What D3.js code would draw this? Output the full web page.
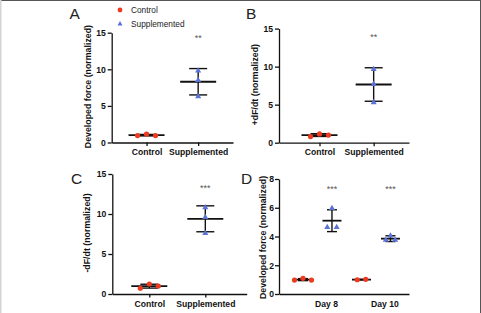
<!DOCTYPE html>
<html><head><meta charset="utf-8">
<script src="https://cdn.jsdelivr.net/npm/d3@7"></script>
<style>
body{margin:0;background:#fff}
svg{display:block;font-family:"Liberation Sans",Arial,Helvetica,sans-serif}
</style>
</head><body>
<svg id="chart" width="481" height="313"></svg>
<script>
// ---------------- data ----------------
const categories = ["Control", "Supplemented"];
const days = ["Day 8", "Day 10"];
const ticks15 = [0, 5, 10, 15];
const ticks8 = [0, 2, 4, 6, 8];

// Panel A: developed force
const aControl = [0.95, 1.15, 0.95];
const aSupp = [9.8, 8.5, 6.3];
const aMean = [1.0, 8.3];
const aSD = [0.1, 1.8];

// Panel B: +dF/dt
const bControl = [0.8, 1.15, 1.0];
const bSupp = [9.65, 7.7, 5.3];
const bMean = [1.0, 7.65];
const bSD = [0.18, 2.2];

// Panel C: -dF/dt
const cControl = [0.72, 1.25, 1.0];
const cSupp = [10.8, 9.6, 7.6];
const cMean = [0.98, 9.4];
const cSD = [0.24, 1.62];

// Panel D: developed force by day
const dControl = [[0.97, 1.09, 0.97], [0.99, 1.02]];
const dSupp = [[5.96, 4.64, 4.64], [4.05, 3.75, 3.75]];
const dControlMean = [1.0, 1.0];
const dControlSD = [0.07, 0.02];
const dSuppMean = [5.1, 3.85];
const dSuppSD = [0.76, 0.2];

const stars = ["**", "**", "***", "***"];

// ---------------- styles ----------------
const RED = "#ee3a1f";
const BLUE = "#5b73d6";
const INK = "#111";

const svg = d3.select("#chart");

// frame
svg.append("line").attr("x1", 0).attr("x2", 481).attr("y1", 0.5).attr("y2", 0.5).attr("stroke", "#555").attr("stroke-width", 1);
svg.append("line").attr("x1", 480.5).attr("x2", 480.5).attr("y1", 0).attr("y2", 313).attr("stroke", "#555").attr("stroke-width", 1);
svg.append("line").attr("x1", 0.75).attr("x2", 0.75).attr("y1", 0).attr("y2", 313).attr("stroke", "#d4d4d4").attr("stroke-width", 1.5);

// beeswarm-like horizontal offsets for overlapping points
function swarm(vals, y, spacing, thresh) {
  const idx = vals.map((v, i) => i).sort((a, b) => vals[a] - vals[b]);
  const off = new Array(vals.length).fill(0);
  let cluster = [idx[0]];
  const flush = () => {
    const c = cluster.slice().sort((a, b) => a - b);
    c.forEach((k, j) => { off[k] = (j - (c.length - 1) / 2) * spacing; });
  };
  for (let i = 1; i < idx.length; i++) {
    if (Math.abs(y(vals[idx[i]]) - y(vals[idx[i - 1]])) < thresh) cluster.push(idx[i]);
    else { flush(); cluster = [idx[i]]; }
  }
  flush();
  return off;
}

function yAxis(g, y, ticks, x0, pad) {
  const ax = g.append("g").attr("transform", `translate(${x0},0)`)
    .call(d3.axisLeft(y).tickValues(ticks).tickSize(4).tickSizeOuter(0).tickPadding(pad));
  ax.select(".domain").attr("stroke", INK).attr("stroke-width", 1.3);
  ax.selectAll(".tick line").attr("stroke", INK).attr("stroke-width", 1.3);
  ax.selectAll(".tick text").attr("fill", INK).attr("font-size", 8.6).attr("font-weight", "bold")
    .attr("font-family", '"Liberation Sans",Arial,sans-serif');
}

function errorBar(g, cx, y, mean, sd, meanW, capW) {
  const lo = y(mean - sd), hi = y(mean + sd);
  g.append("line").attr("x1", cx).attr("x2", cx).attr("y1", lo).attr("y2", hi).attr("stroke", INK).attr("stroke-width", 1.4);
  [lo, hi].forEach(v => g.append("line").attr("x1", cx - capW / 2).attr("x2", cx + capW / 2).attr("y1", v).attr("y2", v).attr("stroke", INK).attr("stroke-width", 1.4));
  g.append("line").attr("x1", cx - meanW / 2).attr("x2", cx + meanW / 2).attr("y1", y(mean)).attr("y2", y(mean)).attr("stroke", INK).attr("stroke-width", 1.8);
}

function points(g, cx, vals, y, kind, spacing, thresh, size) {
  const off = swarm(vals, y, spacing, thresh);
  vals.forEach((v, i) => {
    if (kind === "circle") {
      g.append("circle").attr("cx", cx + off[i]).attr("cy", y(v)).attr("r", size).attr("fill", RED);
    } else {
      g.append("path").attr("d", d3.symbol().type(d3.symbolTriangle).size(size)())
        .attr("transform", `translate(${cx + off[i]},${y(v)})`).attr("fill", BLUE);
    }
  });
}

function yTitle(text, x, y) {
  svg.append("text").attr("transform", `translate(${x},${y}) rotate(-90)`)
    .attr("text-anchor", "middle").attr("dominant-baseline", "central")
    .attr("font-size", 8.8).attr("font-weight", "bold").attr("fill", INK).text(text);
}

function letter(t, x, y) {
  svg.append("text").attr("x", x).attr("y", y).attr("font-size", 15.5).attr("fill", "#222").text(t);
}

function starText(t, x, y) {
  svg.append("text").attr("x", x).attr("y", y + 5).attr("text-anchor", "middle")
    .attr("font-size", 9).attr("fill", "#555").text(t);
}

// ----- panels A, B, C (two categories) -----
function catPanel(cfg) {
  const g = svg.append("g");
  const y = d3.scaleLinear().domain([0, 15]).range([cfg.yb, cfg.yt]);
  const x = d3.scalePoint().domain(categories).range([cfg.x0, cfg.x1]).padding(cfg.pad).align(cfg.align);
  const xa = g.append("g").attr("transform", `translate(0,${cfg.yb})`)
    .call(d3.axisBottom(x).tickSize(3.5).tickSizeOuter(0).tickPadding(3));
  xa.select(".domain").attr("stroke", INK).attr("stroke-width", 1.3);
  xa.selectAll(".tick line").attr("stroke", INK).attr("stroke-width", 1.3);
  xa.selectAll(".tick text").attr("fill", INK).attr("font-size", 8.6).attr("font-weight", "bold")
    .attr("font-family", '"Liberation Sans",Arial,sans-serif');
  yAxis(g, y, ticks15, cfg.x0, 2);

  errorBar(g, x(categories[0]), y, cfg.mean[0], cfg.sd[0], 36, 18);
  errorBar(g, x(categories[1]), y, cfg.mean[1], cfg.sd[1], 36, 18);
  points(g, x(categories[0]), cfg.ctrl, y, "circle", 9, 5, 2.6);
  points(g, x(categories[1]), cfg.supp, y, "triangle", 9, 4, 16);
  starText(cfg.star, x(categories[1]), y(cfg.starV));
  yTitle(cfg.title, cfg.tx, (cfg.yb + cfg.yt) / 2 - 1);
  letter(cfg.letter, cfg.lx, cfg.ly);
}

catPanel({x0: 111.7, x1: 233, yt: 32.7, yb: 142.5, pad: 0.675, align: 0.5,
  ctrl: aControl, supp: aSupp, mean: aMean, sd: aSD, star: stars[0], starV: 14.6,
  title: "Developed force (normalized)", tx: 88, letter: "A", lx: 69.5, ly: 18.5});
catPanel({x0: 279, x1: 409, yt: 28.6, yb: 142.7, pad: 0.7, align: 0.534,
  ctrl: bControl, supp: bSupp, mean: bMean, sd: bSD, star: stars[1], starV: 14.2,
  title: "+dF/dt (normalized)", tx: 255, letter: "B", lx: 246, ly: 19});
catPanel({x0: 112.3, x1: 246.7, yt: 174, yb: 294, pad: 0.7, align: 0.472,
  ctrl: cControl, supp: cSupp, mean: cMean, sd: cSD, star: stars[2], starV: 13.5,
  title: "-dF/dt (normalized)", tx: 87, letter: "C", lx: 71, ly: 184.3});

// ----- panel D (grouped by day) -----
(function () {
  const g = svg.append("g");
  const x0 = 279, x1 = 409, yt = 179, yb = 294;
  const y = d3.scaleLinear().domain([0, 8]).range([yb, yt]);
  const x = d3.scalePoint().domain(days).range([x0, x1]).padding(0.611).align(0.657);
  const gx = d3.scalePoint().domain(categories).range([-23, 6]);
  const xa = g.append("g").attr("transform", `translate(0,${yb})`)
    .call(d3.axisBottom(x).tickSize(0).tickSizeOuter(0).tickPadding(7));
  xa.select(".domain").attr("stroke", INK).attr("stroke-width", 1.3);
  xa.selectAll(".tick text").attr("fill", INK).attr("font-size", 8.6).attr("font-weight", "bold")
    .attr("font-family", '"Liberation Sans",Arial,sans-serif');
  yAxis(g, y, ticks8, x0, 1);

  days.forEach((d, i) => {
    const cc = x(d) + gx("Control"), cs = x(d) + gx("Supplemented");
    errorBar(g, cc, y, dControlMean[i], dControlSD[i], 19, 10);
    errorBar(g, cs, y, dSuppMean[i], dSuppSD[i], 19, 10);
    points(g, cc, dControl[i], y, "circle", 8.5, 5, 2.6);
    points(g, cs, dSupp[i], y, "triangle", 9.4, 4, 16);
    starText(stars[3], cs, y(7.45));
  });
  yTitle("Developed force (normalized)", 263, (yb + yt) / 2 + 1);
  letter("D", 241, 184.3);
})();

// ----- legend -----
svg.append("circle").attr("cx", 120).attr("cy", 10).attr("r", 2.4).attr("fill", RED);
svg.append("path").attr("d", d3.symbol().type(d3.symbolTriangle).size(11)())
  .attr("transform", "translate(120,24)").attr("fill", BLUE);
svg.append("text").attr("x", 131).attr("y", 10).attr("dominant-baseline", "central")
  .attr("font-size", 8.3).attr("fill", "#222").text(categories[0]);
svg.append("text").attr("x", 131).attr("y", 24).attr("dominant-baseline", "central")
  .attr("font-size", 8.3).attr("fill", "#222").text(categories[1]);
</script>
</body></html>
